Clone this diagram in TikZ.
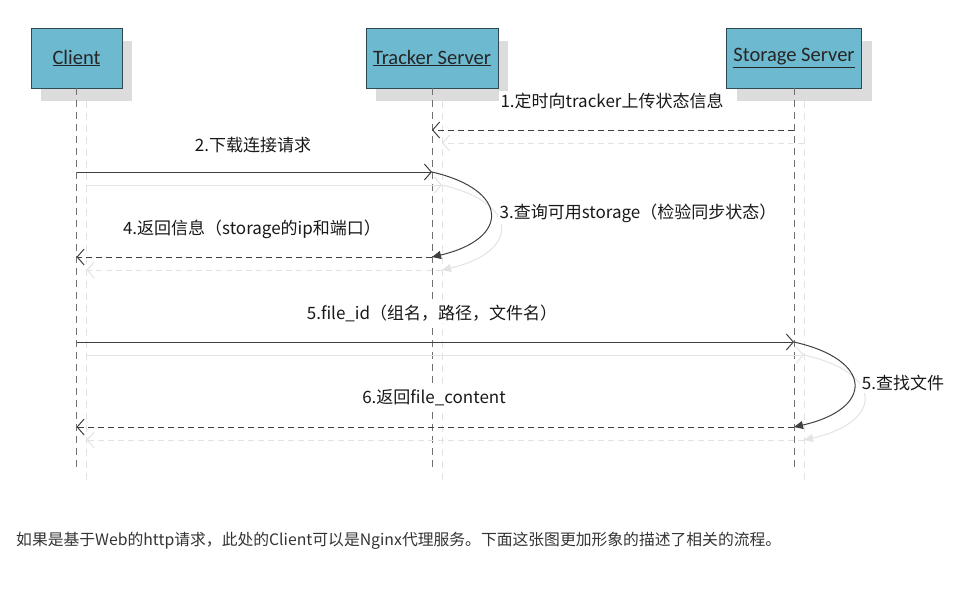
\documentclass[tikz,border=0pt]{standalone}
\usepackage{fontspec}
\setmainfont{Noto Sans CJK SC}
\newfontfamily\actorfont{Carlito}
\usetikzlibrary{arrows.meta,shadows}
\definecolor{seqfill}{HTML}{6DB9CF}
\definecolor{seqedge}{HTML}{2E4A55}
\definecolor{seqline}{HTML}{404040}
\definecolor{seqghost}{HTML}{E3E3E3}
\definecolor{seqshade}{HTML}{DCDCDC}
\definecolor{notegray}{HTML}{333333}

\begin{document}
\begin{tikzpicture}[x=1pt, y=-1pt,
  actor/.style={draw=seqedge, line width=0.8pt, fill=seqfill, minimum height=60pt, inner sep=0pt,
                font=\actorfont\fontsize{20.5}{24}\selectfont, text=black!85,
                drop shadow={shadow xshift=10pt, shadow yshift=-13pt, fill=seqshade, opacity=1}},
  life/.style={seqline!75, line width=0.9pt, dash pattern=on 7pt off 5pt},
  call/.style={seqline, line width=1pt, -{Straight Barb[length=7pt,width=16pt]}},
  reply/.style={call, dash pattern=on 6pt off 4pt},
  self/.style={seqline, line width=1pt, -{Triangle[length=9pt,width=8pt]}},
  ghost/.style={draw=seqghost},
  lbl/.style={font=\fontsize{17}{20}\selectfont, text=black!90, fill=white, inner sep=2pt},
  note/.style={font=\fontsize{15.8}{18}\selectfont, text=notegray, anchor=west, inner sep=0pt},
]
\useasboundingbox (0,0) rectangle (961,592);

% Participants
\node[actor, minimum width=91pt]  (client)  at (76.5,58) {\underline{Client}};
\node[actor, minimum width=132pt] (tracker) at (432,58)  {\underline{Tracker Server}};
\node[actor, minimum width=135pt] (storage) at (794,58)  {\underline{Storage Server}};

% Message rows and lifeline ends
\foreach \r/\y in {a/130, b/172, c/257, d/342, e/427, end/472}
  \coordinate (row-\r) at (0,\y);
\foreach \p in {client, tracker, storage} {
  \foreach \r in {a, b, c, d, e, end}
    \coordinate (\p-\r) at (\p |- row-\r);
  \draw[life, ghost] ([shift={(10,13)}]\p.south) -- ([shift={(10,8)}]\p-end);
  \draw[life] (\p) -- (\p-end);
}

% Messages (faint copy first)
\foreach \from/\to/\r/\kind in {storage/tracker/a/reply, client/tracker/b/call,
    tracker/client/c/reply, client/storage/d/call, storage/client/e/reply} {
  \draw[\kind, ghost] ([shift={(10,13)}]\from-\r) -- ([shift={(10,13)}]\to-\r);
  \draw[\kind] (\from-\r) -- (\to-\r);
}

% Self calls
\draw[self, ghost] ([shift={(10,13)}]tracker-b) .. controls +(78,18) and +(78,-18) .. ([shift={(10,13)}]tracker-c);
\draw[self] (tracker-b) .. controls +(78,18) and +(78,-18) .. (tracker-c);
\draw[self, ghost] ([shift={(10,13)}]storage-d) .. controls +(80,18) and +(80,-18) .. ([shift={(10,13)}]storage-e);
\draw[self] (storage-d) .. controls +(80,18) and +(80,-18) .. (storage-e);

% Labels
\node[lbl] (m1) at (612,101) {1.定时向tracker上传状态信息};
\node[lbl] (m2) at (253,145) {2.下载连接请求};
\node[lbl] (m3) at (638,213) {3.查询可用storage（检验同步状态）};
\node[lbl] (m4) at (252,229) {4.返回信息（storage的ip和端口）};
\node[lbl] (m5) at (432,313) {5.file\_id（组名，路径，文件名）};
\node[lbl] (m5b) at (903,383) {5.查找文件};
\node[lbl] (m6) at (434,398) {6.返回file\_content};

\node[note] (remark) at (16,541) {如果是基于Web的http请求，此处的Client可以是Nginx代理服务。下面这张图更加形象的描述了相关的流程。};

\end{tikzpicture}
\end{document}
